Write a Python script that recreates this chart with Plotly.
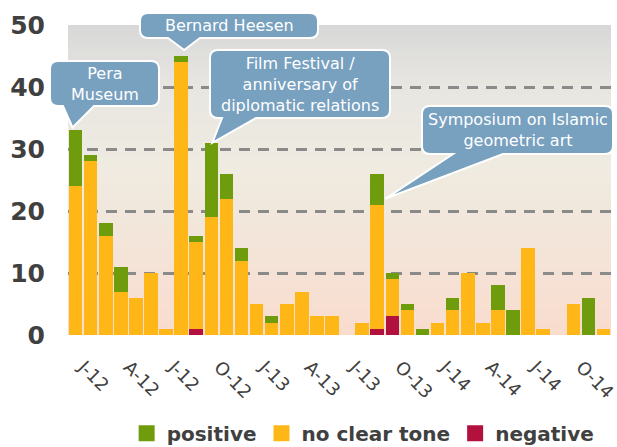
import plotly.graph_objects as go

# Monthly media coverage, January 2012 - December 2014
months = [f"{y}-{m:02d}" for y in (2012, 2013, 2014) for m in range(1, 13)]
tick_months = months[::3]
tick_labels = ["J-12", "A-12", "J-12", "O-12", "J-13", "A-13",
               "J-13", "O-13", "J-14", "A-14", "J-14", "O-14"]

negative = [0, 0, 0, 0, 0, 0, 0, 0, 1, 0, 0, 0,
            0, 0, 0, 0, 0, 0, 0, 0, 1, 3, 0, 0,
            0, 0, 0, 0, 0, 0, 0, 0, 0, 0, 0, 0]
no_clear_tone = [24, 28, 16, 7, 6, 10, 1, 44, 14, 19, 22, 12,
                 5, 2, 5, 7, 3, 3, 0, 2, 20, 6, 4, 0,
                 2, 4, 10, 2, 4, 0, 14, 1, 0, 5, 0, 1]
positive = [9, 1, 2, 4, 0, 0, 0, 1, 1, 12, 4, 2,
            0, 1, 0, 0, 0, 0, 0, 0, 5, 1, 1, 1,
            0, 2, 0, 0, 4, 4, 0, 0, 0, 0, 6, 0]

# Callouts: (text, month of the bar it points at, box in px, pointer base x's, tip offset px)
callouts = [
    ("Pera<br>Museum", "2012-01", (50, 61, 159, 106), (63, 94), (-3, -3)),
    ("Bernard Heesen", "2012-08", (140, 13, 318, 38), (168, 200), (3, -6)),
    ("Film Festival /<br>anniversary of<br>diplomatic relations", "2012-10",
     (210, 50, 390, 118), (222, 256), (1, 0)),
    ("Symposium on Islamic<br>geometric art", "2013-09", (422, 106, 613, 154), (453, 503), (8, 25)),
]

GREEN = "#6E9C0C"
ORANGE = "#FFB718"
RED = "#B3113D"
CALLOUT = "#78A0BF"
TEXT = "#404040"

W, H = 617, 447
L_M, R_M, T_M, B_M = 68, 6, 25, 112
PW, PH = W - L_M - R_M, H - T_M - B_M
Y_MAX = 50
N_CAT = len(months)


def to_paper(px, py):
    return (px - L_M) / PW, (H - B_M - py) / PH


def bar_px(month, value):
    i = months.index(month)
    return L_M + (i + 0.5) * PW / N_CAT, (H - B_M) - value * PH / Y_MAX


fig = go.Figure()
fig.add_bar(x=months, y=negative, name="negative", marker=dict(color=RED, line=dict(width=0)),
            showlegend=False)
fig.add_bar(x=months, y=no_clear_tone, name="no clear tone", marker=dict(color=ORANGE, line=dict(width=0)),
            showlegend=False)
fig.add_bar(x=months, y=positive, name="positive", marker=dict(color=GREEN, line=dict(width=0)),
            showlegend=False)

# legend swatches
for name, col in (("positive", GREEN), ("no clear tone", ORANGE), ("negative", RED)):
    fig.add_scatter(x=[None], y=[None], mode="markers", name=name,
                    marker=dict(symbol="square", size=16, color=col))

shapes = []
# plot-area gradient: peach at the bottom, cream in the middle, grey at the top
stops = [(0.0, (249, 220, 206)), (0.3, (243, 229, 217)), (0.55, (239, 235, 225)),
         (0.8, (231, 230, 225)), (1.0, (216, 216, 216))]


def grad(t):
    for (t0, c0), (t1, c1) in zip(stops[:-1], stops[1:]):
        if t0 <= t <= t1:
            f = (t - t0) / (t1 - t0)
            return "rgb(%d,%d,%d)" % tuple(round(a + (b - a) * f) for a, b in zip(c0, c1))
    return "rgb(%d,%d,%d)" % stops[-1][1]


N = 80
for k in range(N):
    shapes.append(dict(type="rect", xref="paper", yref="paper", x0=0, x1=1,
                       y0=k / N, y1=min(1, (k + 1.6) / N), fillcolor=grad((k + 0.5) / N),
                       line=dict(width=0), layer="below"))

annotations = []
for text, month, (bl, bt, br, bb), (b1, b2), (dx, dy) in callouts:
    total = sum(s[months.index(month)] for s in (negative, no_clear_tone, positive))
    tx, ty = bar_px(month, total)
    tx, ty = tx + dx, ty + dy
    r = 8
    pts = [("M", bl + r, bt), ("L", br - r, bt), ("Q", br, bt, br, bt + r), ("L", br, bb - r),
           ("Q", br, bb, br - r, bb), ("L", b2, bb), ("L", tx, ty), ("L", b1, bb),
           ("L", bl + r, bb), ("Q", bl, bb, bl, bb - r), ("L", bl, bt + r),
           ("Q", bl, bt, bl + r, bt)]
    path = ""
    for p in pts:
        cmd, coords = p[0], p[1:]
        seg = []
        for j in range(0, len(coords), 2):
            xp, yp = to_paper(coords[j], coords[j + 1])
            seg.append(f"{xp:.5f},{yp:.5f}")
        path += cmd + " ".join(seg)
    path += "Z"
    shapes.append(dict(type="path", xref="paper", yref="paper", path=path,
                       fillcolor=CALLOUT, line=dict(color="white", width=2), layer="above"))
    cx, cy = to_paper((bl + br) / 2, (bt + bb) / 2)
    annotations.append(dict(text=text, x=cx, y=cy, xref="paper", yref="paper",
                            showarrow=False, xanchor="center", yanchor="middle", align="center",
                            font=dict(family="DejaVu Sans", size=16, color="white")))

fig.update_layout(
    width=W, height=H,
    margin=dict(l=L_M, r=R_M, t=T_M, b=B_M, pad=0, autoexpand=False),
    paper_bgcolor="white", plot_bgcolor="rgba(0,0,0,0)",
    barmode="stack", bargap=0.1,
    font=dict(family="DejaVu Sans", color=TEXT),
    shapes=shapes, annotations=annotations,
    legend=dict(orientation="h", x=0.108, xanchor="left", y=-0.317, yanchor="middle",
                itemsizing="trace", traceorder="normal", bgcolor="rgba(0,0,0,0)",
                font=dict(family="DejaVu Sans", size=20, color=TEXT, weight="bold")),
)
fig.update_xaxes(type="category", categoryorder="array", categoryarray=months,
                 range=[-0.5, N_CAT - 0.5], tickmode="array", tickvals=tick_months,
                 ticktext=["\u00a0\u00a0" + t for t in tick_labels], tickangle=45, ticks="",
                 showgrid=False, showline=False, zeroline=False, ticklabelstandoff=9,
                 automargin=False,
                 tickfont=dict(family="DejaVu Sans", size=18, color=TEXT))
fig.update_yaxes(range=[0, Y_MAX], dtick=10, tick0=0, showgrid=True, gridcolor="#8A8A8A",
                 gridwidth=2.5, griddash="11px,8px", zeroline=False, showline=False, ticks="",
                 ticklabelstandoff=22, automargin=False,
                 tickfont=dict(family="DejaVu Sans", size=25, color=TEXT, weight="bold"))

fig.write_html("out.html")
